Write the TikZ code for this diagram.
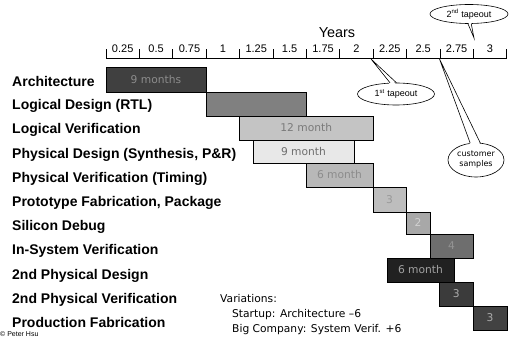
\documentclass[tikz,border=0pt]{standalone}
\usepackage{fontspec}
\setmainfont{Liberation Sans}
\newfontfamily\dv{DejaVu Sans}
\usetikzlibrary{shapes.geometric,calc}
\begin{document}
\begin{tikzpicture}[x=1pt,y=-1pt,
  lab/.style={anchor=base west, inner sep=0, font=\bfseries\fontsize{14}{16}\selectfont},
  bar/.style={draw=black, line width=0.8pt, inner sep=0, font=\dv\fontsize{10.7}{12}\selectfont},
  tick/.style={line width=0.8pt},
  ticklab/.style={inner sep=0, font=\fontsize{11}{13}\selectfont},
  callout/.style={ellipse, draw=black, fill=white, line width=0.6pt, inner sep=0},
  note/.style={anchor=base west, inner sep=0, font=\dv\fontsize{10.7}{12}\selectfont}
]
\useasboundingbox (0,0) rectangle (515,337);

% axis
\node[inner sep=0, font=\fontsize{14.4}{16}\selectfont] (years) at (337,33) {Years};
\coordinate (a0) at (106,58);
\coordinate (a12) at (506.7,58);
\draw[tick] (a0) -- (a12);
\foreach \i in {0,...,12} {
  \draw[tick] ($(a0)+(\i*33.39,0)$) -- ++(0,-9);
}
\foreach \t [count=\i] in {0.25,0.5,0.75,1,1.25,1.5,1.75,2,2.25,2.5,2.75,3} {
  \node[ticklab] (tl\i) at ($(a0)+(\i*33.39-16.7,-9.5)$) {\t};
}

% row labels
\node[lab] (l1) at (12,86.5) {Architecture};
\node[lab] (l2) at (12,110) {Logical Design (RTL)};
\node[lab] (l3) at (12,134) {Logical Verification};
\node[lab] (l4) at (12,158) {Physical Design (Synthesis, P\&R)};
\node[lab] (l5) at (12,182.5) {Physical Verification (Timing)};
\node[lab] (l6) at (12,206) {Prototype Fabrication, Package};
\node[lab] (l7) at (12,230) {Silicon Debug};
\node[lab] (l8) at (12,254.5) {In-System Verification};
\node[lab] (l9) at (12,279) {2nd Physical Design};
\node[lab] (l10) at (12,303.3) {2nd Physical Verification};
\node[lab] (l11) at (12,327.3) {Production Fabrication};

% bars
\node[bar, fill=black!75, text=black!45, minimum width=100pt, minimum height=25pt] (b1) at (156,79.5) {9 months};
\node[bar, fill=black!50, minimum width=100pt, minimum height=24pt] (b2) at (256,104) {};
\node[bar, fill=black!23, text=black!52, minimum width=133.5pt, minimum height=24pt] (b3) at (306.25,128) {12 month};
\node[bar, fill=black!9, text=black!57, minimum width=101pt, minimum height=23pt] (b4) at (303.5,151.5) {9 month};
\node[bar, fill=black!28, text=black!45, minimum width=67pt, minimum height=24pt] (b5) at (339.5,175) {6 month};
\node[bar, fill=black!26, text=black!40, minimum width=33pt, minimum height=25pt] (b6) at (389.5,199.5) {3};
\node[bar, fill=black!34, text=black!18, minimum width=24pt, minimum height=22pt] (b7) at (418,223) {2};
\node[bar, fill=black!57, text=black!42, minimum width=43pt, minimum height=24pt] (b8) at (451.5,246) {4};
\node[bar, fill=black!87, text=black!37, minimum width=67pt, minimum height=24pt] (b9) at (420.5,270) {6 month};
\node[bar, fill=black!77, text=black!33, minimum width=33.5pt, minimum height=24pt] (b10) at (456.25,294) {3};
\node[bar, fill=black!74, text=black!33, minimum width=34pt, minimum height=24pt] (b11) at (490,318) {3};

% variations note
\node[note] (v1) at (220,302) {Variations:};
\node[note] (v2) at (232,317) {Startup: Architecture \textendash6};
\node[note] (v3) at (232,332) {Big Company: System Verif. +6};

% copyright
\node[anchor=base west, inner sep=0, font=\fontsize{7}{8}\selectfont] (copy) at (0,336.3) {\textcopyright{} Peter Hsu};

% callout: 1st tapeout
\node[callout, minimum width=77pt, minimum height=22pt, font=\fontsize{9}{10}\selectfont] (c1) at (396,94) {1\textsuperscript{st} tapeout};
\coordinate (t1) at (371,59);
\fill[white] ($(c1.118)+(0,2)$) -- (t1) -- ($(c1.88)+(0,2)$) -- cycle;
\draw[line width=0.6pt] (c1.118) -- (t1) -- (c1.88);

% callout: 2nd tapeout
\node[callout, minimum width=78pt, minimum height=19pt, font=\fontsize{9}{10}\selectfont] (c2) at (469,14) {2\textsuperscript{nd} tapeout};
\coordinate (t2) at (474,38);
\fill[white] ($(c2.264)+(0,-2)$) -- (t2) -- ($(c2.283)+(0,-2)$) -- cycle;
\draw[line width=0.6pt] (c2.264) -- (t2) -- (c2.283);

% callout: customer samples
\node[callout, minimum width=56pt, minimum height=34pt, align=center, font=\dv\fontsize{8}{10}\selectfont] (c3) at (476,160) {customer\\samples};
\coordinate (t3) at (439.3,58.5);
\fill[white] ($(c3.109)+(0,2)$) -- (t3) -- ($(c3.76)+(0,2)$) -- cycle;
\draw[line width=0.6pt] (c3.109) -- (t3) -- (c3.76);
\end{tikzpicture}
\end{document}
